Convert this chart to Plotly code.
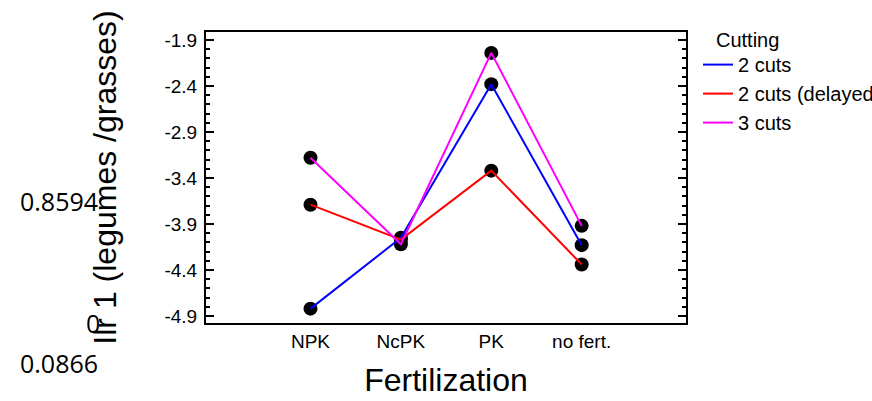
import plotly.graph_objects as go

# Fertilization treatments and mean ilr-1 values per cutting regime
fertilization = ["NPK", "NcPK", "PK", "no fert."]
cuts_2 = [-4.82, -4.05, -2.38, -4.13]
cuts_2_delayed = [-3.69, -4.07, -3.32, -4.34]
cuts_3 = [-3.18, -4.12, -2.04, -3.92]

series = [
    ("2 cuts", cuts_2, "#0000FF"),
    ("2 cuts (delayed)", cuts_2_delayed, "#FF0000"),
    ("3 cuts", cuts_3, "#FF00FF"),
]

y_tick_values = [-1.9, -2.4, -2.9, -3.4, -3.9, -4.4, -4.9]
y_tick_labels = ["-1.9", "-2.4", "-2.9", "-3.4", "-3.9", "-4.4", "-4.9"]

side_values = ["0.8594", "0", "0.0866"]

fig = go.Figure()

# black mean markers underneath the coloured lines
for name, vals, color in series:
    fig.add_trace(go.Scatter(
        x=list(range(len(fertilization))), y=vals, mode="markers",
        marker=dict(color="black", size=14),
        showlegend=False, hoverinfo="skip",
    ))

for name, vals, color in series:
    fig.add_trace(go.Scatter(
        x=list(range(len(fertilization))), y=vals, mode="lines",
        name=name, line=dict(color=color, width=2),
    ))

font_main = "Liberation Sans, Arial, sans-serif"

fig.update_layout(
    width=872, height=401,
    paper_bgcolor="white", plot_bgcolor="white",
    margin=dict(l=206, r=186, t=32, b=78, autoexpand=False),
    font=dict(family=font_main, size=19, color="black"),
    showlegend=True,
    legend=dict(
        x=1.025, xanchor="left", y=0.955, yanchor="top",
        font=dict(size=20, color="black"),
        bgcolor="rgba(0,0,0,0)", borderwidth=0,
        itemwidth=30, tracegroupgap=0,
    ),
    annotations=[
        dict(text="Cutting", xref="paper", yref="paper", x=1.059, y=0.973,
             xanchor="left", yanchor="middle", showarrow=False,
             font=dict(family=font_main, size=20, color="black")),
        dict(text=side_values[0], xref="paper", yref="paper", x=-0.306, y=0.419,
             xanchor="center", yanchor="middle", showarrow=False,
             font=dict(family="Open Sans", size=25, color="black")),
        dict(text=side_values[1], xref="paper", yref="paper", x=-0.2354, y=0.0,
             xanchor="center", yanchor="middle", showarrow=False,
             font=dict(family="Open Sans", size=25, color="black")),
        dict(text=side_values[2], xref="paper", yref="paper", x=-0.306, y=-0.137,
             xanchor="center", yanchor="middle", showarrow=False,
             font=dict(family="Open Sans", size=25, color="black")),
    ],
)

fig.update_xaxes(
    range=[-1.156, 4.154],
    tickmode="array", tickvals=list(range(len(fertilization))), ticktext=fertilization,
    ticks="", showgrid=False, zeroline=False,
    showline=True, linecolor="black", linewidth=2, mirror=True,
    tickfont=dict(size=19, color="black"),
    ticklabelstandoff=0,
    title=dict(text="Fertilization", font=dict(size=32, color="black"), standoff=18),
)

fig.update_yaxes(
    range=[-4.976, -1.813],
    tickmode="array", tickvals=y_tick_values, ticktext=y_tick_labels,
    ticks="inside", ticklen=8, tickwidth=2, tickcolor="black",
    minor=dict(ticks="inside", ticklen=4, tickwidth=2, tickcolor="black",
               tickmode="linear", dtick=0.1, tick0=-1.9, showgrid=False),
    showgrid=False, zeroline=False,
    showline=True, linecolor="black", linewidth=2, mirror="ticks",
    tickfont=dict(size=19, color="black"),
    ticklabelstandoff=3,
    title=dict(text="Ilr 1 (legumes /grasses)", font=dict(size=32, color="black"), standoff=38),
)

fig.write_html("out.html")
